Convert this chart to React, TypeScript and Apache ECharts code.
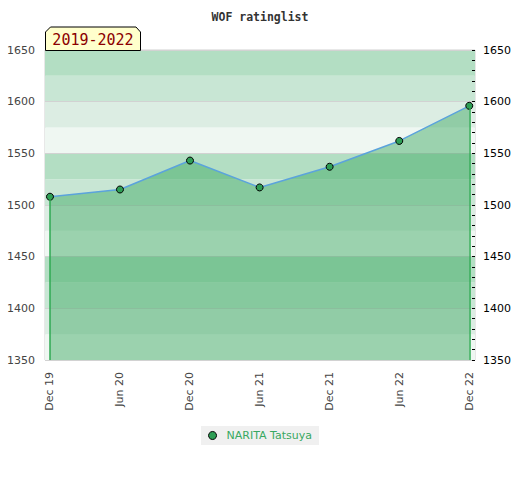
import React, { useEffect, useRef } from "react";
import * as echarts from "echarts";

const title = "WOF ratinglist";
const periodLabel = "2019-2022";
const seriesName = "NARITA Tatsuya";
const dates = ["2019-12-01", "2020-06-01", "2020-12-01", "2021-06-01", "2021-12-01", "2022-06-01", "2022-12-01"];
const tickLabels = ["Dec 19", "Jun 20", "Dec 20", "Jun 21", "Dec 21", "Jun 22", "Dec 22"];
const ratings = [1508, 1515, 1543, 1517, 1537, 1562, 1596];
const bandColors = ["#eff7f2", "#dcede3", "#c8e6d4", "#b3dec3"];
const yMin = 1350;
const yMax = 1650;

const DAY = 86400000;
const toTs = (d: string) => {
  const [y, m, dd] = d.split("-").map(Number);
  return Date.UTC(y, m - 1, dd);
};

export default function App() {
  const ref = useRef<HTMLDivElement>(null);
  useEffect(() => {
    document.body.style.margin = "0";
    if (!ref.current) return;
    const chart = echarts.init(ref.current, null, { renderer: "svg" });
    const xs = dates.map(toTs);
    const last = xs.length - 1;
    const data = xs.map((x, i) => [x, ratings[i]]);
    const font = "DejaVu Sans";
    const plain = (v: number) => String(v);
    chart.setOption({
      animation: false,
      title: {
        text: title,
        left: "center",
        top: 6,
        textStyle: { fontFamily: "DejaVu Sans Mono", fontWeight: "bold", fontSize: 11.5, color: "#333" },
      },
      grid: {
        left: 45,
        top: 50,
        width: 430,
        height: 310,
        show: true,
        borderColor: "#d0d0d0",
        borderWidth: 1,
        backgroundColor: "transparent",
      },
      xAxis: {
        type: "value",
        min: xs[0] - 13 * DAY,
        max: xs[last] + 15 * DAY,
        axisLine: { show: false },
        axisTick: { show: false },
        splitLine: { show: false },
        axisLabel: {
          customValues: xs,
          rotate: 90,
          margin: 12,
          fontSize: 11,
          color: "#444",
          fontFamily: font,
          formatter: (v: number) => {
            const i = xs.indexOf(v);
            return i >= 0 ? tickLabels[i] : "";
          },
        },
      },
      yAxis: [
        {
          type: "value",
          position: "left",
          min: yMin,
          max: yMax,
          interval: 50,
          z: 1,
          axisLine: { show: false },
          axisTick: { show: false },
          axisLabel: { margin: 10, fontSize: 11, color: "#444", fontFamily: font, formatter: plain },
          splitLine: { show: true, lineStyle: { color: "#d2d2d2", width: 1 } },
        },
        {
          type: "value",
          position: "right",
          min: yMin,
          max: yMax,
          interval: 50,
          z: 1,
          axisLine: { show: false },
          axisTick: { show: true, inside: true, length: 3, lineStyle: { color: "#000" } },
          minorTick: { show: true, splitNumber: 5, length: 3, lineStyle: { color: "#000" } },
          axisLabel: { margin: 8, fontSize: 11, color: "#000", fontFamily: font, formatter: plain },
          splitLine: { show: false },
        },
        {
          type: "value",
          position: "right",
          min: yMin,
          max: yMax,
          interval: 25,
          z: 0,
          axisLine: { show: false },
          axisTick: { show: false },
          axisLabel: { show: false },
          splitLine: { show: false },
          splitArea: { show: true, areaStyle: { color: bandColors } },
        },
      ],
      legend: {
        left: "center",
        top: 426,
        backgroundColor: "#f0f0f0",
        padding: [4, 7, 4, 7],
        itemWidth: 8,
        itemHeight: 8,
        icon: "circle",
        itemStyle: { color: "#2e9e55", borderColor: "#000", borderWidth: 1 },
        textStyle: { color: "#38a862", fontSize: 11, fontFamily: font, padding: [0, 0, 0, 5] },
        data: [seriesName],
      },
      graphic: [
        {
          type: "polygon",
          z: 10,
          shape: { points: [[45.5, 50.5], [45.5, 32], [50.5, 27], [136, 27], [140.5, 32], [140.5, 50.5]] },
          style: { fill: "#ffffcc", stroke: "#000", lineWidth: 1 },
        },
        {
          type: "text",
          z: 11,
          x: 93,
          y: 40,
          style: {
            text: periodLabel,
            fill: "#8b0000",
            font: '15px "DejaVu Sans Mono"',
            align: "center",
            verticalAlign: "middle",
            textAlign: "center",
            textVerticalAlign: "middle",
          },
        },
      ],
      series: [
        {
          type: "line",
          name: seriesName,
          yAxisIndex: 0,
          data,
          symbol: "circle",
          symbolSize: 7,
          itemStyle: { color: "#2e9e55", borderColor: "#000", borderWidth: 1 },
          lineStyle: { color: "#5ba3dc", width: 1.5 },
          areaStyle: { color: "#3da964", opacity: 0.475, origin: "start" },
          markLine: {
            silent: true,
            symbol: "none",
            label: { show: false },
            lineStyle: { color: "#2ea852", width: 1.5, type: "solid" },
            data: [
              [{ coord: [xs[0], ratings[0]] }, { coord: [xs[0], yMin] }],
              [{ coord: [xs[last], ratings[last]] }, { coord: [xs[last], yMin] }],
            ],
          },
        },
      ],
    });
    return () => chart.dispose();
  }, []);
  return <div ref={ref} style={{ width: 520, height: 480 }} />;
}
